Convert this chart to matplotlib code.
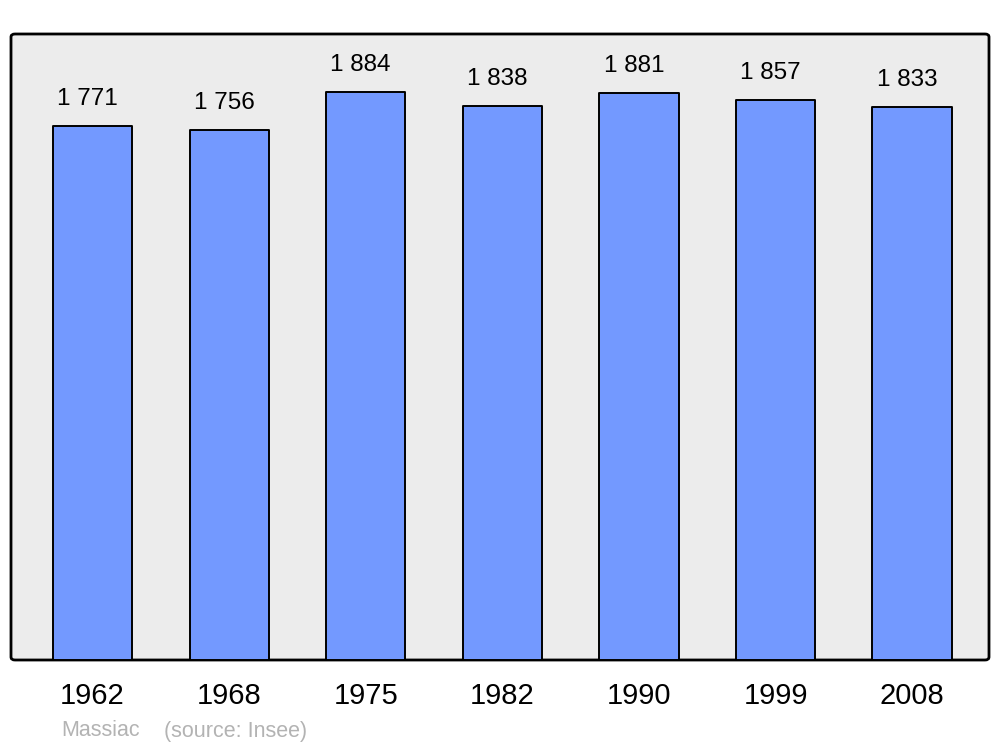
import matplotlib

matplotlib.use("Agg")
import matplotlib.pyplot as plt
from matplotlib.patches import FancyBboxPatch

years = ["1962", "1968", "1975", "1982", "1990", "1999", "2008"]
population = [1771, 1756, 1884, 1838, 1881, 1857, 1833]
place = "Massiac"
source = "(source: Insee)"

plt.rcParams["font.family"] = ["Liberation Sans", "DejaVu Sans"]

fig = plt.figure(figsize=(10, 7.47), dpi=100)
left, right, bottom, top = 0.011, 0.989, 1 - 660 / 747, 1 - 34 / 747

# rounded grey panel behind the axes
panel = FancyBboxPatch((left, bottom), right - left, top - bottom,
                       boxstyle="round,pad=0,rounding_size=0.004",
                       transform=fig.transFigure, facecolor="#ececec",
                       edgecolor="black", linewidth=2, zorder=-5)
fig.patches.append(panel)

ax = fig.add_axes([left, bottom, right - left, top - bottom])
ax.patch.set_visible(False)
for s in ax.spines.values():
    s.set_visible(False)

x = range(len(years))
bars = ax.bar(x, population, width=0.58, color="#7399ff", edgecolor="black",
              linewidth=1.4, zorder=2)
for b in bars:
    b.set_joinstyle("round")

for xi, v in zip(x, population):
    ax.annotate(f"{v:,}".replace(",", " "), (xi, v), xytext=(-5, 27),
                textcoords="offset pixels", ha="center", va="center",
                fontsize=17.5)

ax.set_xlim(-0.597, 6.563)
ax.set_ylim(0, 2076)
ax.set_yticks([])
ax.set_xticks(list(x))
ax.set_xticklabels(years, fontsize=21)
ax.tick_params(axis="x", length=0, pad=16)

fig.text(0.061, 1 - 731 / 747, place, color="#b3b3b3", fontsize=15.5, va="center")
fig.text(0.164, 1 - 731 / 747, source, color="#b3b3b3", fontsize=15.5, va="center")

fig.savefig("out.png", dpi=100)
